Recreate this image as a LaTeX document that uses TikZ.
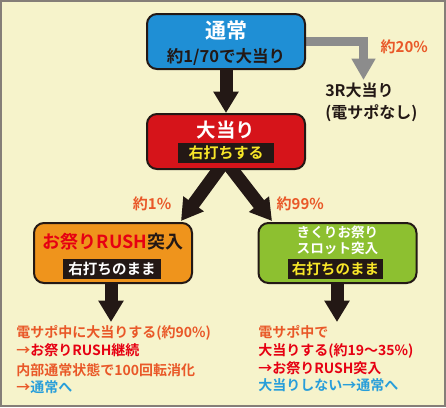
\documentclass[tikz,border=0pt]{standalone}
\usepackage{fontspec}
\setmainfont{Noto Sans CJK JP}[BoldFont={* Bold}]
\usetikzlibrary{arrows.meta,backgrounds}

\definecolor{cream}{RGB}{246,243,203}
\definecolor{framegray}{RGB}{133,126,120}
\definecolor{boxblue}{RGB}{31,143,213}
\definecolor{boxred}{RGB}{214,20,26}
\definecolor{boxorange}{RGB}{239,148,28}
\definecolor{boxgreen}{RGB}{141,192,48}
\definecolor{txtorange}{RGB}{233,88,40}
\definecolor{txtred}{RGB}{230,0,18}
\definecolor{txtblue}{RGB}{40,158,218}
\definecolor{arrowgray}{RGB}{140,140,140}
\definecolor{inkblack}{RGB}{35,24,21}
\definecolor{bandyellow}{RGB}{248,230,40}

\newcommand{\jfont}[1]{\fontsize{#1}{#1}\selectfont\bfseries}

\tikzset{
  box/.style={draw=inkblack, line width=1.5pt, rounded corners=7.5pt,
    minimum width=118.5pt, inner sep=0pt},
  band/.style={fill=inkblack, minimum height=15pt, inner sep=0pt},
  bigarrow/.style={draw=inkblack, line width=9.75pt,
    -{Triangle[width=18pt,length=16pt]}},
  grayarrow/.style={draw=arrowgray, line width=6.75pt, miter limit=10,
    -{Triangle[width=17pt,length=16pt]}},
  notes/.style={align=left, anchor=north west, inner sep=0pt,
    font=\fontsize{10.5}{13.4}\selectfont\bfseries}
}

\begin{document}
\begin{tikzpicture}[x=0.75pt,y=-0.75pt]
  \useasboundingbox (0,0) rectangle (446,407);

  % boxes
  \node[box, fill=boxblue, minimum height=41.25pt] (top) at (226,41.5) {};
  \node[text=white, font=\jfont{15.75}] (topT) at (226,31) {通常};
  \node[text=inkblack, font=\jfont{12.4}] (topS) at (226,57) {約1/70で大当り};

  \node[box, fill=boxred, minimum height=41.25pt] (big) at (226,141.5) {};
  \node[text=white, font=\jfont{14.6}] (bigT) at (226,130) {大当り};
  \node[band, minimum width=72pt, text=bandyellow, font=\jfont{11.25}] (bigB) at (226,153) {右打ちする};

  \node[box, fill=boxorange, minimum height=45pt] (rush) at (113,253) {};
  \node[font=\jfont{13.5}] (rushT) at (113,242) {\textcolor{txtred}{お祭りRUSH}\textcolor{inkblack}{突入}};
  \node[band, minimum width=73.5pt, text=white, font=\jfont{10.9}] (rushB) at (112,268.5) {右打ちのまま};

  \node[box, fill=boxgreen, minimum height=45pt] (slot) at (337.5,253) {};
  \node[text=white, font=\jfont{10.2}, align=center] (slotT) at (337.5,240.5) {きくりお祭り\\[2pt]スロット突入};
  \node[band, minimum width=71.25pt, text=bandyellow, font=\jfont{10.9}] (slotB) at (335.5,268.5) {右打ちのまま};

  % side result
  \node[anchor=west, text=txtorange, font=\jfont{11.25}] (pct20) at (376,47) {約20\%};
  \node[anchor=north west, inner sep=0pt, align=left, text=inkblack,
    font=\fontsize{12}{16}\selectfont\bfseries] (small) at (325,83) {3R大当り\\(電サポなし)};

  \node[anchor=east, text=txtorange, font=\jfont{11.25}] (pct1) at (176,204) {約1\%};
  \node[anchor=west, text=txtorange, font=\jfont{11.25}] (pct99) at (272,204) {約99\%};

  % notes
  \node[notes] (noteL) at (16,325) {%
    \textcolor{txtorange}{電サポ中に大当りする(約90\%)}\\
    \textcolor{txtorange}{→}\textcolor{txtred}{お祭りRUSH継続}\\[1.5pt]
    \textcolor{txtorange}{内部通常状態で100回転消化}\\
    \textcolor{txtorange}{→}\textcolor{txtblue}{通常へ}};
  \node[notes] (noteR) at (258,325) {%
    \textcolor{txtorange}{電サポ中で}\\
    \textcolor{txtred}{大当りする(約19～35\%)}\\
    \textcolor{txtred}{→お祭りRUSH突入}\\
    \textcolor{txtblue}{大当りしない→通常へ}};

  \coordinate (grayTip) at (363.5,80);
  \coordinate (sL) at (233,150);
  \coordinate (sR) at (217,150);
  \coordinate (tipL) at (181,221);
  \coordinate (tipR) at (272,221);

  \begin{scope}[on background layer]
    \fill[cream] (0,0) rectangle (446,407);
    \draw[framegray, line width=1.5pt] (1,1) rectangle (445,406);
    \draw[grayarrow] (top.east) -| (grayTip);
    \draw[bigarrow] (top.south) -- (big.north);
    \draw[bigarrow] (sL) -- (tipL);
    \draw[bigarrow] (sR) -- (tipR);
    \draw[bigarrow] (111,270) -- (111,322);
    \draw[bigarrow] (337,270) -- (337,322);
  \end{scope}
\end{tikzpicture}
\end{document}
